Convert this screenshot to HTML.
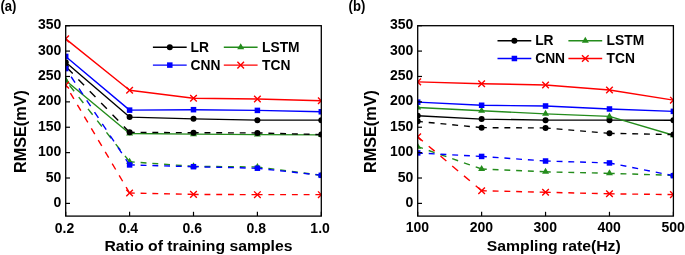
<!DOCTYPE html><html><head><meta charset="utf-8"><style>html,body{margin:0;padding:0;background:#fff;width:685px;height:255px;overflow:hidden}svg{display:block;will-change:transform}</style></head><body>
<svg width="685" height="255" viewBox="0 0 685 255">
<rect width="685" height="255" fill="#fff"/>
<defs><clipPath id="clip0"><rect x="65.7" y="25.7" width="255.60000000000002" height="190.4"/></clipPath></defs>
<g clip-path="url(#clip0)">
<polyline points="65.70,62.26 129.60,117.09 193.50,118.87 257.40,120.13 321.30,120.13" fill="none" stroke="#000000" stroke-width="1.4" stroke-linejoin="round"/>
<circle cx="65.70" cy="62.26" r="3.0" fill="#000000"/>
<circle cx="129.60" cy="117.09" r="3.0" fill="#000000"/>
<circle cx="193.50" cy="118.87" r="3.0" fill="#000000"/>
<circle cx="257.40" cy="120.13" r="3.0" fill="#000000"/>
<circle cx="321.30" cy="120.13" r="3.0" fill="#000000"/>
<polyline points="65.70,80.53 129.60,133.54 193.50,134.15 257.40,134.60 321.30,134.86" fill="none" stroke="#248c1c" stroke-width="1.4" stroke-linejoin="round"/>
<polygon points="65.70,76.53 62.20,82.53 69.20,82.53" fill="#248c1c"/>
<polygon points="129.60,129.54 126.10,135.54 133.10,135.54" fill="#248c1c"/>
<polygon points="193.50,130.15 190.00,136.15 197.00,136.15" fill="#248c1c"/>
<polygon points="257.40,130.60 253.90,136.60 260.90,136.60" fill="#248c1c"/>
<polygon points="321.30,130.86 317.80,136.86 324.80,136.86" fill="#248c1c"/>
<polyline points="65.70,56.42 129.60,110.13 193.50,109.68 257.40,110.39 321.30,111.76" fill="none" stroke="#0000ff" stroke-width="1.4" stroke-linejoin="round"/>
<rect x="62.95" y="53.67" width="5.5" height="5.5" fill="#0000ff"/>
<rect x="126.85" y="107.38" width="5.5" height="5.5" fill="#0000ff"/>
<rect x="190.75" y="106.93" width="5.5" height="5.5" fill="#0000ff"/>
<rect x="254.65" y="107.64" width="5.5" height="5.5" fill="#0000ff"/>
<rect x="318.55" y="109.01" width="5.5" height="5.5" fill="#0000ff"/>
<polyline points="65.70,38.90 129.60,90.28 193.50,98.20 257.40,99.06 321.30,100.74" fill="none" stroke="#ff0000" stroke-width="1.4" stroke-linejoin="round"/>
<path d="M62.40 35.60L69.00 42.20M62.40 42.20L69.00 35.60" stroke="#ff0000" stroke-width="1.4" fill="none"/>
<path d="M126.30 86.98L132.90 93.58M126.30 93.58L132.90 86.98" stroke="#ff0000" stroke-width="1.4" fill="none"/>
<path d="M190.20 94.90L196.80 101.50M190.20 101.50L196.80 94.90" stroke="#ff0000" stroke-width="1.4" fill="none"/>
<path d="M254.10 95.76L260.70 102.36M254.10 102.36L260.70 95.76" stroke="#ff0000" stroke-width="1.4" fill="none"/>
<path d="M318.00 97.44L324.60 104.04M318.00 104.04L324.60 97.44" stroke="#ff0000" stroke-width="1.4" fill="none"/>
<line x1="129.60" y1="132.32" x2="65.70" y2="66.32" stroke="#000000" stroke-width="1.4" stroke-dasharray="8.21 8.14"/>
<line x1="193.50" y1="132.73" x2="129.60" y2="132.32" stroke="#000000" stroke-width="1.4" stroke-dasharray="5.90 5.85"/>
<line x1="257.40" y1="132.93" x2="193.50" y2="132.73" stroke="#000000" stroke-width="1.4" stroke-dasharray="5.90 5.85"/>
<line x1="321.30" y1="134.60" x2="257.40" y2="132.93" stroke="#000000" stroke-width="1.4" stroke-dasharray="5.90 5.85"/>
<circle cx="65.70" cy="66.32" r="3.0" fill="#000000"/>
<circle cx="129.60" cy="132.32" r="3.0" fill="#000000"/>
<circle cx="193.50" cy="132.73" r="3.0" fill="#000000"/>
<circle cx="257.40" cy="132.93" r="3.0" fill="#000000"/>
<circle cx="321.30" cy="134.60" r="3.0" fill="#000000"/>
<line x1="129.60" y1="161.77" x2="65.70" y2="80.53" stroke="#248c1c" stroke-width="1.4" stroke-dasharray="7.51 7.44"/>
<line x1="193.50" y1="166.34" x2="129.60" y2="161.77" stroke="#248c1c" stroke-width="1.4" stroke-dasharray="5.92 5.86"/>
<line x1="257.40" y1="166.95" x2="193.50" y2="166.34" stroke="#248c1c" stroke-width="1.4" stroke-dasharray="5.90 5.85"/>
<line x1="321.30" y1="175.22" x2="257.40" y2="166.95" stroke="#248c1c" stroke-width="1.4" stroke-dasharray="5.95 5.90"/>
<polygon points="65.70,76.53 62.20,82.53 69.20,82.53" fill="#248c1c"/>
<polygon points="129.60,157.77 126.10,163.77 133.10,163.77" fill="#248c1c"/>
<polygon points="193.50,162.34 190.00,168.34 197.00,168.34" fill="#248c1c"/>
<polygon points="257.40,162.95 253.90,168.95 260.90,168.95" fill="#248c1c"/>
<polygon points="321.30,171.22 317.80,177.22 324.80,177.22" fill="#248c1c"/>
<line x1="129.60" y1="164.92" x2="65.70" y2="68.55" stroke="#0000ff" stroke-width="1.4" stroke-dasharray="7.08 7.02"/>
<line x1="193.50" y1="166.69" x2="129.60" y2="164.92" stroke="#0000ff" stroke-width="1.4" stroke-dasharray="5.90 5.85"/>
<line x1="257.40" y1="168.22" x2="193.50" y2="166.69" stroke="#0000ff" stroke-width="1.4" stroke-dasharray="5.90 5.85"/>
<line x1="321.30" y1="175.32" x2="257.40" y2="168.22" stroke="#0000ff" stroke-width="1.4" stroke-dasharray="5.94 5.89"/>
<rect x="62.95" y="65.80" width="5.5" height="5.5" fill="#0000ff"/>
<rect x="126.85" y="162.17" width="5.5" height="5.5" fill="#0000ff"/>
<rect x="190.75" y="163.94" width="5.5" height="5.5" fill="#0000ff"/>
<rect x="254.65" y="165.47" width="5.5" height="5.5" fill="#0000ff"/>
<rect x="318.55" y="172.57" width="5.5" height="5.5" fill="#0000ff"/>
<line x1="129.60" y1="192.99" x2="65.70" y2="85.10" stroke="#ff0000" stroke-width="1.4" stroke-dasharray="6.86 6.80"/>
<line x1="193.50" y1="194.41" x2="129.60" y2="192.99" stroke="#ff0000" stroke-width="1.4" stroke-dasharray="5.90 5.85"/>
<line x1="257.40" y1="194.67" x2="193.50" y2="194.41" stroke="#ff0000" stroke-width="1.4" stroke-dasharray="5.90 5.85"/>
<line x1="321.30" y1="194.67" x2="257.40" y2="194.67" stroke="#ff0000" stroke-width="1.4" stroke-dasharray="5.90 5.85"/>
<path d="M62.40 81.80L69.00 88.40M62.40 88.40L69.00 81.80" stroke="#ff0000" stroke-width="1.4" fill="none"/>
<path d="M126.30 189.69L132.90 196.29M126.30 196.29L132.90 189.69" stroke="#ff0000" stroke-width="1.4" fill="none"/>
<path d="M190.20 191.11L196.80 197.71M190.20 197.71L196.80 191.11" stroke="#ff0000" stroke-width="1.4" fill="none"/>
<path d="M254.10 191.37L260.70 197.97M254.10 197.97L260.70 191.37" stroke="#ff0000" stroke-width="1.4" fill="none"/>
<path d="M318.00 191.37L324.60 197.97M318.00 197.97L324.60 191.37" stroke="#ff0000" stroke-width="1.4" fill="none"/>
</g>
<rect x="65.7" y="25.7" width="255.60000000000002" height="190.4" fill="none" stroke="#000" stroke-width="1.3"/>
<line x1="65.7" y1="203.40" x2="70.0" y2="203.40" stroke="#000" stroke-width="1.2"/>
<text x="61.30" y="206.90" text-anchor="end" font-size="14" font-family="Liberation Sans, sans-serif" font-weight="bold">0</text>
<line x1="65.7" y1="178.01" x2="70.0" y2="178.01" stroke="#000" stroke-width="1.2"/>
<text x="61.30" y="181.51" text-anchor="end" font-size="14" font-family="Liberation Sans, sans-serif" font-weight="bold">50</text>
<line x1="65.7" y1="152.63" x2="70.0" y2="152.63" stroke="#000" stroke-width="1.2"/>
<text x="61.30" y="156.13" text-anchor="end" font-size="14" font-family="Liberation Sans, sans-serif" font-weight="bold">100</text>
<line x1="65.7" y1="127.24" x2="70.0" y2="127.24" stroke="#000" stroke-width="1.2"/>
<text x="61.30" y="130.74" text-anchor="end" font-size="14" font-family="Liberation Sans, sans-serif" font-weight="bold">150</text>
<line x1="65.7" y1="101.86" x2="70.0" y2="101.86" stroke="#000" stroke-width="1.2"/>
<text x="61.30" y="105.36" text-anchor="end" font-size="14" font-family="Liberation Sans, sans-serif" font-weight="bold">200</text>
<line x1="65.7" y1="76.47" x2="70.0" y2="76.47" stroke="#000" stroke-width="1.2"/>
<text x="61.30" y="79.97" text-anchor="end" font-size="14" font-family="Liberation Sans, sans-serif" font-weight="bold">250</text>
<line x1="65.7" y1="51.09" x2="70.0" y2="51.09" stroke="#000" stroke-width="1.2"/>
<text x="61.30" y="54.59" text-anchor="end" font-size="14" font-family="Liberation Sans, sans-serif" font-weight="bold">300</text>
<line x1="65.7" y1="25.70" x2="70.0" y2="25.70" stroke="#000" stroke-width="1.2"/>
<text x="61.30" y="29.20" text-anchor="end" font-size="14" font-family="Liberation Sans, sans-serif" font-weight="bold">350</text>
<line x1="65.70" y1="216.1" x2="65.70" y2="211.79999999999998" stroke="#000" stroke-width="1.2"/>
<text x="64.50" y="233.0" text-anchor="middle" font-size="14" font-family="Liberation Sans, sans-serif" font-weight="bold">0.2</text>
<line x1="129.60" y1="216.1" x2="129.60" y2="211.79999999999998" stroke="#000" stroke-width="1.2"/>
<text x="128.40" y="233.0" text-anchor="middle" font-size="14" font-family="Liberation Sans, sans-serif" font-weight="bold">0.4</text>
<line x1="193.50" y1="216.1" x2="193.50" y2="211.79999999999998" stroke="#000" stroke-width="1.2"/>
<text x="192.30" y="233.0" text-anchor="middle" font-size="14" font-family="Liberation Sans, sans-serif" font-weight="bold">0.6</text>
<line x1="257.40" y1="216.1" x2="257.40" y2="211.79999999999998" stroke="#000" stroke-width="1.2"/>
<text x="256.20" y="233.0" text-anchor="middle" font-size="14" font-family="Liberation Sans, sans-serif" font-weight="bold">0.8</text>
<line x1="321.30" y1="216.1" x2="321.30" y2="211.79999999999998" stroke="#000" stroke-width="1.2"/>
<text x="320.10" y="233.0" text-anchor="middle" font-size="14" font-family="Liberation Sans, sans-serif" font-weight="bold">1.0</text>
<text transform="translate(198.45 250.6) scale(1 0.95)" text-anchor="middle" font-size="15.75" font-family="Liberation Sans, sans-serif" font-weight="bold">Ratio of training samples</text>
<text transform="translate(26.2 131.55) rotate(-90)" text-anchor="middle" font-size="16.2" font-family="Liberation Sans, sans-serif" font-weight="bold">RMSE(mV)</text>
<text transform="translate(0.4 10.5) scale(0.95 1)" font-size="13.8" font-family="Liberation Sans, sans-serif" font-weight="bold">(a)</text>
<line x1="152.90" y1="47.30" x2="186.70" y2="47.30" stroke="#000000" stroke-width="1.4"/>
<circle cx="169.80" cy="47.30" r="3.0" fill="#000000"/>
<text x="190.60" y="52.00" font-size="13.8" font-family="Liberation Sans, sans-serif" font-weight="bold">LR</text>
<line x1="152.90" y1="65.10" x2="186.70" y2="65.10" stroke="#0000ff" stroke-width="1.4"/>
<rect x="167.05" y="62.35" width="5.5" height="5.5" fill="#0000ff"/>
<text x="190.60" y="69.80" font-size="13.8" font-family="Liberation Sans, sans-serif" font-weight="bold">CNN</text>
<line x1="223.80" y1="47.30" x2="257.60" y2="47.30" stroke="#248c1c" stroke-width="1.4"/>
<polygon points="240.70,43.30 237.20,49.30 244.20,49.30" fill="#248c1c"/>
<text x="262.00" y="52.00" font-size="13.8" font-family="Liberation Sans, sans-serif" font-weight="bold">LSTM</text>
<line x1="223.80" y1="65.10" x2="257.60" y2="65.10" stroke="#ff0000" stroke-width="1.4"/>
<path d="M237.40 61.80L244.00 68.40M237.40 68.40L244.00 61.80" stroke="#ff0000" stroke-width="1.4" fill="none"/>
<text x="262.00" y="69.80" font-size="13.8" font-family="Liberation Sans, sans-serif" font-weight="bold">TCN</text>
<defs><clipPath id="clip1"><rect x="417.7" y="25.7" width="255.7" height="190.4"/></clipPath></defs>
<g clip-path="url(#clip1)">
<polyline points="417.70,115.77 481.62,119.12 545.55,120.13 609.47,120.13 673.40,120.24" fill="none" stroke="#000000" stroke-width="1.4" stroke-linejoin="round"/>
<circle cx="417.70" cy="115.77" r="3.0" fill="#000000"/>
<circle cx="481.62" cy="119.12" r="3.0" fill="#000000"/>
<circle cx="545.55" cy="120.13" r="3.0" fill="#000000"/>
<circle cx="609.47" cy="120.13" r="3.0" fill="#000000"/>
<circle cx="673.40" cy="120.24" r="3.0" fill="#000000"/>
<polyline points="417.70,107.44 481.62,110.74 545.55,113.84 609.47,116.38 673.40,135.21" fill="none" stroke="#248c1c" stroke-width="1.4" stroke-linejoin="round"/>
<polygon points="417.70,103.44 414.20,109.44 421.20,109.44" fill="#248c1c"/>
<polygon points="481.62,106.74 478.12,112.74 485.12,112.74" fill="#248c1c"/>
<polygon points="545.55,109.84 542.05,115.84 549.05,115.84" fill="#248c1c"/>
<polygon points="609.47,112.38 605.97,118.38 612.97,118.38" fill="#248c1c"/>
<polygon points="673.40,131.21 669.90,137.21 676.90,137.21" fill="#248c1c"/>
<polyline points="417.70,102.16 481.62,105.26 545.55,105.97 609.47,108.97 673.40,111.35" fill="none" stroke="#0000ff" stroke-width="1.4" stroke-linejoin="round"/>
<rect x="414.95" y="99.41" width="5.5" height="5.5" fill="#0000ff"/>
<rect x="478.88" y="102.51" width="5.5" height="5.5" fill="#0000ff"/>
<rect x="542.80" y="103.22" width="5.5" height="5.5" fill="#0000ff"/>
<rect x="606.72" y="106.22" width="5.5" height="5.5" fill="#0000ff"/>
<rect x="670.65" y="108.60" width="5.5" height="5.5" fill="#0000ff"/>
<polyline points="417.70,81.85 481.62,83.68 545.55,84.95 609.47,89.98 673.40,100.18" fill="none" stroke="#ff0000" stroke-width="1.4" stroke-linejoin="round"/>
<path d="M414.40 78.55L421.00 85.15M414.40 85.15L421.00 78.55" stroke="#ff0000" stroke-width="1.4" fill="none"/>
<path d="M478.32 80.38L484.93 86.98M478.32 86.98L484.93 80.38" stroke="#ff0000" stroke-width="1.4" fill="none"/>
<path d="M542.25 81.65L548.85 88.25M542.25 88.25L548.85 81.65" stroke="#ff0000" stroke-width="1.4" fill="none"/>
<path d="M606.17 86.68L612.77 93.28M606.17 93.28L612.77 86.68" stroke="#ff0000" stroke-width="1.4" fill="none"/>
<path d="M670.10 96.88L676.70 103.48M670.10 103.48L676.70 96.88" stroke="#ff0000" stroke-width="1.4" fill="none"/>
<line x1="481.62" y1="127.65" x2="417.70" y2="121.35" stroke="#000000" stroke-width="1.4" stroke-dasharray="5.93 5.88"/>
<line x1="545.55" y1="127.95" x2="481.62" y2="127.65" stroke="#000000" stroke-width="1.4" stroke-dasharray="5.90 5.85"/>
<line x1="609.47" y1="133.34" x2="545.55" y2="127.95" stroke="#000000" stroke-width="1.4" stroke-dasharray="5.92 5.87"/>
<line x1="673.40" y1="134.55" x2="609.47" y2="133.34" stroke="#000000" stroke-width="1.4" stroke-dasharray="5.90 5.85"/>
<circle cx="417.70" cy="121.35" r="3.0" fill="#000000"/>
<circle cx="481.62" cy="127.65" r="3.0" fill="#000000"/>
<circle cx="545.55" cy="127.95" r="3.0" fill="#000000"/>
<circle cx="609.47" cy="133.34" r="3.0" fill="#000000"/>
<circle cx="673.40" cy="134.55" r="3.0" fill="#000000"/>
<line x1="481.62" y1="168.98" x2="417.70" y2="146.64" stroke="#248c1c" stroke-width="1.4" stroke-dasharray="6.25 6.20"/>
<line x1="545.55" y1="171.82" x2="481.62" y2="168.98" stroke="#248c1c" stroke-width="1.4" stroke-dasharray="5.91 5.86"/>
<line x1="609.47" y1="173.34" x2="545.55" y2="171.82" stroke="#248c1c" stroke-width="1.4" stroke-dasharray="5.90 5.85"/>
<line x1="673.40" y1="175.37" x2="609.47" y2="173.34" stroke="#248c1c" stroke-width="1.4" stroke-dasharray="5.90 5.85"/>
<polygon points="417.70,142.64 414.20,148.64 421.20,148.64" fill="#248c1c"/>
<polygon points="481.62,164.98 478.12,170.98 485.12,170.98" fill="#248c1c"/>
<polygon points="545.55,167.82 542.05,173.82 549.05,173.82" fill="#248c1c"/>
<polygon points="609.47,169.34 605.97,175.34 612.97,175.34" fill="#248c1c"/>
<polygon points="673.40,171.37 669.90,177.37 676.90,177.37" fill="#248c1c"/>
<line x1="481.62" y1="156.44" x2="417.70" y2="152.93" stroke="#0000ff" stroke-width="1.4" stroke-dasharray="5.91 5.86"/>
<line x1="545.55" y1="161.01" x2="481.62" y2="156.44" stroke="#0000ff" stroke-width="1.4" stroke-dasharray="5.92 5.86"/>
<line x1="609.47" y1="162.94" x2="545.55" y2="161.01" stroke="#0000ff" stroke-width="1.4" stroke-dasharray="5.90 5.85"/>
<line x1="673.40" y1="175.68" x2="609.47" y2="162.94" stroke="#0000ff" stroke-width="1.4" stroke-dasharray="6.02 5.97"/>
<rect x="414.95" y="150.18" width="5.5" height="5.5" fill="#0000ff"/>
<rect x="478.88" y="153.69" width="5.5" height="5.5" fill="#0000ff"/>
<rect x="542.80" y="158.26" width="5.5" height="5.5" fill="#0000ff"/>
<rect x="606.72" y="160.19" width="5.5" height="5.5" fill="#0000ff"/>
<rect x="670.65" y="172.93" width="5.5" height="5.5" fill="#0000ff"/>
<line x1="481.62" y1="190.71" x2="417.70" y2="136.89" stroke="#ff0000" stroke-width="1.4" stroke-dasharray="7.71 7.65"/>
<line x1="545.55" y1="192.28" x2="481.62" y2="190.71" stroke="#ff0000" stroke-width="1.4" stroke-dasharray="5.90 5.85"/>
<line x1="609.47" y1="193.80" x2="545.55" y2="192.28" stroke="#ff0000" stroke-width="1.4" stroke-dasharray="5.90 5.85"/>
<line x1="673.40" y1="194.62" x2="609.47" y2="193.80" stroke="#ff0000" stroke-width="1.4" stroke-dasharray="5.90 5.85"/>
<path d="M414.40 133.59L421.00 140.19M414.40 140.19L421.00 133.59" stroke="#ff0000" stroke-width="1.4" fill="none"/>
<path d="M478.32 187.41L484.93 194.01M478.32 194.01L484.93 187.41" stroke="#ff0000" stroke-width="1.4" fill="none"/>
<path d="M542.25 188.98L548.85 195.58M542.25 195.58L548.85 188.98" stroke="#ff0000" stroke-width="1.4" fill="none"/>
<path d="M606.17 190.50L612.77 197.10M606.17 197.10L612.77 190.50" stroke="#ff0000" stroke-width="1.4" fill="none"/>
<path d="M670.10 191.32L676.70 197.92M670.10 197.92L676.70 191.32" stroke="#ff0000" stroke-width="1.4" fill="none"/>
</g>
<rect x="417.7" y="25.7" width="255.7" height="190.4" fill="none" stroke="#000" stroke-width="1.3"/>
<line x1="417.7" y1="203.40" x2="422.0" y2="203.40" stroke="#000" stroke-width="1.2"/>
<text x="413.30" y="206.90" text-anchor="end" font-size="14" font-family="Liberation Sans, sans-serif" font-weight="bold">0</text>
<line x1="417.7" y1="178.01" x2="422.0" y2="178.01" stroke="#000" stroke-width="1.2"/>
<text x="413.30" y="181.51" text-anchor="end" font-size="14" font-family="Liberation Sans, sans-serif" font-weight="bold">50</text>
<line x1="417.7" y1="152.63" x2="422.0" y2="152.63" stroke="#000" stroke-width="1.2"/>
<text x="413.30" y="156.13" text-anchor="end" font-size="14" font-family="Liberation Sans, sans-serif" font-weight="bold">100</text>
<line x1="417.7" y1="127.24" x2="422.0" y2="127.24" stroke="#000" stroke-width="1.2"/>
<text x="413.30" y="130.74" text-anchor="end" font-size="14" font-family="Liberation Sans, sans-serif" font-weight="bold">150</text>
<line x1="417.7" y1="101.86" x2="422.0" y2="101.86" stroke="#000" stroke-width="1.2"/>
<text x="413.30" y="105.36" text-anchor="end" font-size="14" font-family="Liberation Sans, sans-serif" font-weight="bold">200</text>
<line x1="417.7" y1="76.47" x2="422.0" y2="76.47" stroke="#000" stroke-width="1.2"/>
<text x="413.30" y="79.97" text-anchor="end" font-size="14" font-family="Liberation Sans, sans-serif" font-weight="bold">250</text>
<line x1="417.7" y1="51.09" x2="422.0" y2="51.09" stroke="#000" stroke-width="1.2"/>
<text x="413.30" y="54.59" text-anchor="end" font-size="14" font-family="Liberation Sans, sans-serif" font-weight="bold">300</text>
<line x1="417.7" y1="25.70" x2="422.0" y2="25.70" stroke="#000" stroke-width="1.2"/>
<text x="413.30" y="29.20" text-anchor="end" font-size="14" font-family="Liberation Sans, sans-serif" font-weight="bold">350</text>
<line x1="417.70" y1="216.1" x2="417.70" y2="211.79999999999998" stroke="#000" stroke-width="1.2"/>
<text x="417.40" y="231.6" text-anchor="middle" font-size="14" font-family="Liberation Sans, sans-serif" font-weight="bold">100</text>
<line x1="481.62" y1="216.1" x2="481.62" y2="211.79999999999998" stroke="#000" stroke-width="1.2"/>
<text x="481.32" y="231.6" text-anchor="middle" font-size="14" font-family="Liberation Sans, sans-serif" font-weight="bold">200</text>
<line x1="545.55" y1="216.1" x2="545.55" y2="211.79999999999998" stroke="#000" stroke-width="1.2"/>
<text x="545.25" y="231.6" text-anchor="middle" font-size="14" font-family="Liberation Sans, sans-serif" font-weight="bold">300</text>
<line x1="609.47" y1="216.1" x2="609.47" y2="211.79999999999998" stroke="#000" stroke-width="1.2"/>
<text x="609.17" y="231.6" text-anchor="middle" font-size="14" font-family="Liberation Sans, sans-serif" font-weight="bold">400</text>
<line x1="673.40" y1="216.1" x2="673.40" y2="211.79999999999998" stroke="#000" stroke-width="1.2"/>
<text x="673.10" y="231.6" text-anchor="middle" font-size="14" font-family="Liberation Sans, sans-serif" font-weight="bold">500</text>
<text transform="translate(553.7 250.6) scale(1 0.95)" text-anchor="middle" font-size="15.75" font-family="Liberation Sans, sans-serif" font-weight="bold">Sampling rate(Hz)</text>
<text transform="translate(375.6 131.55) rotate(-90)" text-anchor="middle" font-size="16.2" font-family="Liberation Sans, sans-serif" font-weight="bold">RMSE(mV)</text>
<text transform="translate(348.6 10.5) scale(0.95 1)" font-size="13.8" font-family="Liberation Sans, sans-serif" font-weight="bold">(b)</text>
<line x1="497.50" y1="40.70" x2="531.30" y2="40.70" stroke="#000000" stroke-width="1.4"/>
<circle cx="514.40" cy="40.70" r="3.0" fill="#000000"/>
<text x="535.20" y="45.40" font-size="13.8" font-family="Liberation Sans, sans-serif" font-weight="bold">LR</text>
<line x1="497.50" y1="58.50" x2="531.30" y2="58.50" stroke="#0000ff" stroke-width="1.4"/>
<rect x="511.65" y="55.75" width="5.5" height="5.5" fill="#0000ff"/>
<text x="535.20" y="63.20" font-size="13.8" font-family="Liberation Sans, sans-serif" font-weight="bold">CNN</text>
<line x1="568.40" y1="40.70" x2="602.20" y2="40.70" stroke="#248c1c" stroke-width="1.4"/>
<polygon points="585.30,36.70 581.80,42.70 588.80,42.70" fill="#248c1c"/>
<text x="606.60" y="45.40" font-size="13.8" font-family="Liberation Sans, sans-serif" font-weight="bold">LSTM</text>
<line x1="568.40" y1="58.50" x2="602.20" y2="58.50" stroke="#ff0000" stroke-width="1.4"/>
<path d="M582.00 55.20L588.60 61.80M582.00 61.80L588.60 55.20" stroke="#ff0000" stroke-width="1.4" fill="none"/>
<text x="606.60" y="63.20" font-size="13.8" font-family="Liberation Sans, sans-serif" font-weight="bold">TCN</text>
</svg></body></html>
